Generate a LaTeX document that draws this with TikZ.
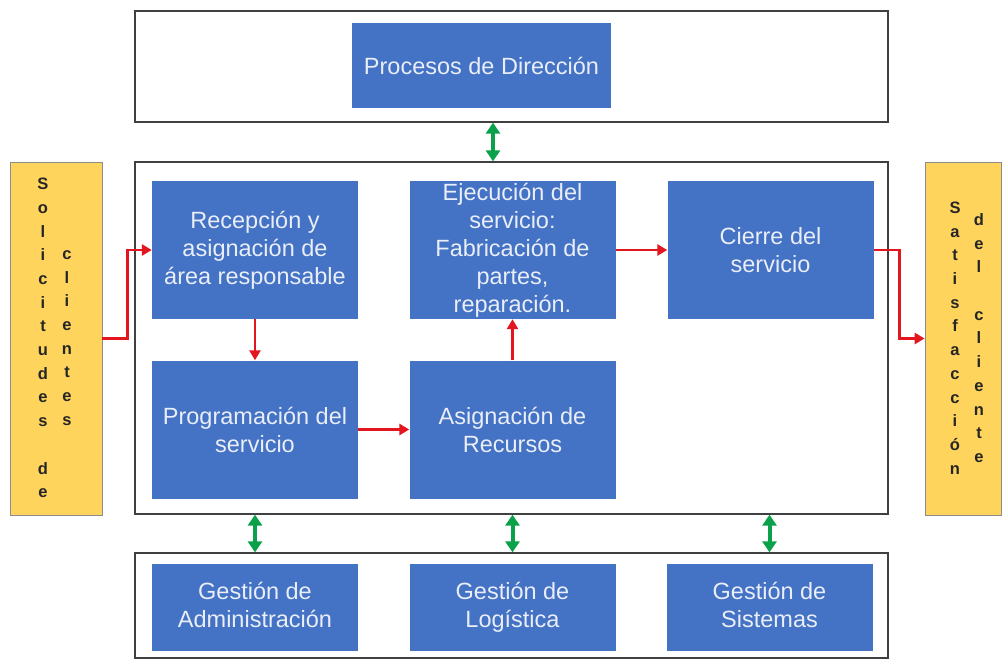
\documentclass[tikz,border=0pt]{standalone}
\usepackage{fontspec}
\setmainfont{Liberation Sans}
\usetikzlibrary{arrows.meta}
\definecolor{procblue}{HTML}{4472C4}
\definecolor{proctext}{HTML}{E9EEF8}
\definecolor{baryellow}{HTML}{FFD45C}
\definecolor{flowred}{HTML}{E3161F}
\definecolor{linkgreen}{HTML}{0BA14B}
\tikzset{
  marco/.style={draw=black!75,line width=1.3pt,minimum width=753pt},
  proceso/.style={fill=procblue,text=proctext,minimum width=206pt,minimum height=138pt,inner sep=1pt,
    align=center,font=\fontsize{23.5}{28}\selectfont},
  barra/.style={fill=baryellow,draw=black!45,line width=0.8pt,minimum height=353pt},
  letras/.style={align=center,inner sep=0pt,text=black!85,font=\fontsize{16.5}{23.7}\selectfont\bfseries},
  flujo/.style={draw=flowred,line width=2.5pt,-{Triangle[length=10pt,width=11pt]}},
  enlace/.style={draw=linkgreen,line width=4pt,{Triangle[length=11pt,width=14pt]}-{Triangle[length=11pt,width=14pt]}}
}
\begin{document}
\begin{tikzpicture}[x=1pt,y=-1pt]
  \useasboundingbox[fill=white] (0,0) rectangle (1002,659);
  \node[marco,minimum height=111pt] (direccion) at (511.5,66.5) {};
  \node[marco,minimum height=352pt] (operacion) at (511.5,338) {};
  \node[marco,minimum height=105pt] (apoyo) at (511.5,605.5) {};
  \node[proceso,minimum width=259pt,minimum height=85pt] (procesos) at (481.5,65.5) {Procesos de Dirección};
  \node[proceso] (recepcion) at (255,250) {Recepción y\\asignación de\\área responsable};
  \node[proceso] (ejecucion) at (512.5,250) {Ejecución del\\servicio:\\Fabricación de\\partes,\\reparación.};
  \node[proceso] (cierre) at (770.5,250) {Cierre del\\servicio};
  \node[proceso] (programacion) at (255,429.5) {Programación del\\servicio};
  \node[proceso] (asignacion) at (512.5,429.5) {Asignación de\\Recursos};
  \node[proceso,minimum height=87pt] (administracion) at (255,607.5) {\strut Gestión de\\Administración\strut};
  \node[proceso,minimum height=87pt] (logistica) at (512.5,607.5) {\strut Gestión de\\Logística\strut};
  \node[proceso,minimum height=87pt] (sistemas) at (769.5,607.5) {\strut Gestión de\\Sistemas\strut};
  \node[barra,minimum width=92pt] (solicitudes) at (56,338.5) {};
  \node[barra,minimum width=76pt] (satisfaccion) at (963,338.5) {};
  \node[letras] (solicitudes a) at (43,338) {S\\o\\l\\i\\c\\i\\t\\u\\d\\e\\s\\\mbox{}\\d\\e};
  \node[letras] (solicitudes b) at (67,338) {c\\l\\i\\e\\n\\t\\e\\s};
  \node[letras] (satisfaccion a) at (955,338) {S\\a\\t\\i\\s\\f\\a\\c\\c\\i\\ó\\n};
  \node[letras] (satisfaccion b) at (979,338) {d\\e\\l\\\mbox{}\\c\\l\\i\\e\\n\\t\\e};
  \draw[flujo] (solicitudes.east) -- ++(25,0) |- (recepcion.west);
  \draw[flujo] (recepcion.south) -- (programacion.north);
  \draw[flujo] (programacion.east) -- (asignacion.west);
  \draw[flujo] (asignacion.north) -- (ejecucion.south);
  \draw[flujo] (ejecucion.east) -- (cierre.west);
  \draw[flujo] (cierre.east) -- ++(26,0) |- (satisfaccion.west);
  \draw[enlace] ([xshift=-18.5pt]direccion.south) -- ([xshift=-18.5pt]operacion.north);
  \draw[enlace] (administracion.north |- operacion.south) -- (administracion.north |- apoyo.north);
  \draw[enlace] (logistica.north |- operacion.south) -- (logistica.north |- apoyo.north);
  \draw[enlace] (sistemas.north |- operacion.south) -- (sistemas.north |- apoyo.north);
\end{tikzpicture}
\end{document}
